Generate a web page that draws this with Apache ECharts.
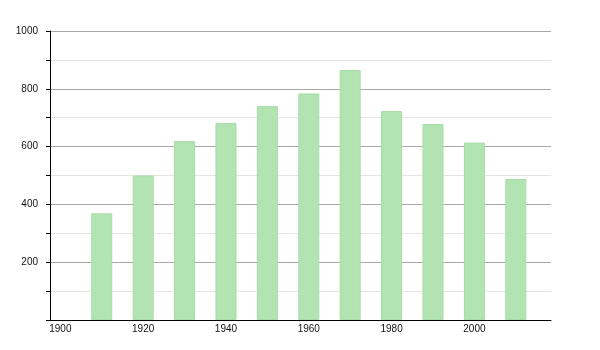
<!DOCTYPE html>
<html>
<head>
<meta charset="utf-8">
<script src="https://cdn.jsdelivr.net/npm/echarts@6/dist/echarts.min.js"></script>
<style>html,body{margin:0;padding:0;background:#fff}#c{width:600px;height:350px}</style>
</head>
<body>
<div id="c"></div>
<script>
var years = [1910, 1920, 1930, 1940, 1950, 1960, 1970, 1980, 1990, 2000, 2010];
var population = [369, 500, 619, 682, 740, 784, 865, 723, 678, 614, 488];
var xTickLabels = [1900, 1920, 1940, 1960, 1980, 2000];

var chart = echarts.init(document.getElementById('c'), null, {renderer: 'canvas'});
chart.setOption({
  animation: false,
  backgroundColor: '#fff',
  grid: {left: 50, right: 49, top: 31, bottom: 30, containLabel: false},
  xAxis: {
    type: 'value',
    min: 1897.5,
    max: 2018.5,
    axisLine: {show: true, onZero: false, lineStyle: {color: '#000', width: 1}},
    axisTick: {show: false},
    splitLine: {show: false},
    axisLabel: {
      customValues: xTickLabels,
      color: '#111',
      fontFamily: 'Liberation Sans, Arial, sans-serif',
      fontSize: 10,
      margin: 4,
      formatter: function (v) { return String(v); }
    }
  },
  yAxis: {
    type: 'value',
    min: 0,
    max: 1000,
    interval: 200,
    axisLine: {show: true, lineStyle: {color: '#000', width: 1}},
    axisTick: {show: true, length: 4, lineStyle: {color: '#000'}},
    minorTick: {show: true, splitNumber: 2, length: 4, lineStyle: {color: '#000'}},
    splitLine: {show: true, lineStyle: {color: '#a8a8a8', width: 1}},
    minorSplitLine: {show: true, lineStyle: {color: '#e4e4e4', width: 1}},
    axisLabel: {
      color: '#111',
      fontFamily: 'Liberation Sans, Arial, sans-serif',
      fontSize: 10,
      margin: 12,
      formatter: function (v) { return v === 0 ? '' : String(v); }
    }
  },
  series: [{
    type: 'bar',
    barWidth: 21,
    data: years.map(function (y, i) { return [y, population[i]]; }),
    itemStyle: {color: '#b1e4b1', borderColor: '#a8dca8', borderWidth: 1},
    z: 3
  }]
});
</script>
</body>
</html>
